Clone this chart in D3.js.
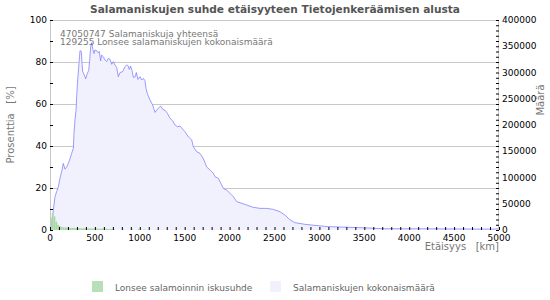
<!DOCTYPE html>
<html>
<head>
<meta charset="utf-8">
<script src="https://cdn.jsdelivr.net/npm/d3@7"></script>
<style>
body { margin: 0; background: #fff; }
svg { font-family: "DejaVu Sans", sans-serif; }
</style>
</head>
<body>
<div id="chart-area"></div>
<script>
// total strikes by distance (km -> count)
var distances = [0, 19, 37, 56, 74, 93, 111, 130, 148, 167, 186, 204, 223, 241, 260, 267, 278, 290, 297, 308,
    323, 334, 349, 356, 364, 382, 397, 416, 431, 442, 453, 464, 475, 490, 501, 520, 535, 549, 564, 575,
    594, 612, 631, 649, 668, 687, 705, 724, 742, 761, 780, 809, 835, 854, 872, 883, 898, 913, 928, 950,
    961, 980, 1002, 1021, 1039, 1058, 1069, 1084, 1114, 1143, 1169, 1188, 1206, 1233, 1255, 1281, 1307, 1336, 1366, 1392,
    1418, 1448, 1478, 1503, 1540, 1578, 1596, 1633, 1670, 1707, 1745, 1782, 1819, 1837, 1874, 1912, 1930, 1968, 2004, 2041,
    2079, 2116, 2190, 2264, 2339, 2413, 2487, 2561, 2617, 2673, 2728, 2840, 2951, 3096, 3318, 3541, 3730, 3987, 4500, 4950, 5000];
var counts = [4000, 9600, 38000, 63600, 73200, 82400, 98400, 111200, 126800, 116000, 120000, 126800, 136000, 146000, 155600, 184000, 209600, 228000, 254000, 285600,
    317600, 341600, 340000, 317600, 301600, 295200, 288000, 298400, 304000, 324000, 349200, 356800, 346000, 336000, 342800, 341600, 337600, 340000, 322400, 333200,
    330000, 324000, 320800, 326800, 325200, 315600, 320800, 314400, 310000, 292000, 300000, 301600, 311200, 314400, 312400, 306000, 312000, 304000, 290800, 292000,
    300000, 286800, 292000, 285600, 288800, 284400, 270000, 260000, 247600, 238000, 224000, 228000, 232000, 236000, 230000, 228000, 222400, 212800, 208000, 200000,
    196800, 198000, 192000, 187200, 177600, 171600, 158800, 149200, 146000, 136000, 120000, 114400, 108000, 101600, 98400, 85600, 79200, 76000, 70000, 63600,
    54000, 52000, 47600, 43200, 41200, 41200, 39200, 34800, 28400, 19200, 14000, 10800, 8800, 6400, 5200, 3800, 2400, 2400, 2000, 1600, 2400];

// Lonsee strike ratio [%], 20 km bins
var ratioBins = [0, 20, 40, 60, 80, 100, 120, 140, 160, 180, 200, 220, 240, 260, 280, 300, 320, 340, 360, 380,
    400, 420, 440, 460, 480, 500, 520, 540, 560, 580, 600, 620, 640, 660, 680, 700, 720, 740, 760, 780,
    800, 820, 840, 860, 880, 900, 920, 940, 960, 980, 1000, 1020, 1040];
var ratios = [6, 8, 6.5, 4, 2.5, 1.8, 1.5, 1.3, 1.2, 1.2, 1.1, 1, 1, 1, 0.9, 0.9, 0.9, 0.8, 0.8, 0.8,
    0.8, 0.8, 0.7, 0.7, 0.7, 0.7, 0.7, 0.6, 0.6, 0.6, 0.6, 0.6, 0.5, 0.5, 0.5, 0.4, 0, 0, 0, 0,
    0.4, 0, 0, 0, 0, 0.4, 0, 0, 0, 0.4, 0, 0, 0.3];

var pctTicks = [0, 20, 40, 60, 80, 100];
var countTicks = [0, 50000, 100000, 150000, 200000, 250000, 300000, 350000, 400000];
var kmTicks = [0, 500, 1000, 1500, 2000, 2500, 3000, 3500, 4000, 4500, 5000];

var margin = { left: 50, right: 51, top: 20, bottom: 70 };
var width = 550 - margin.left - margin.right,
    height = 300 - margin.top - margin.bottom;

var svg = d3.select("#chart-area")
    .append("svg")
        .attr("width", 550)
        .attr("height", 300);

var g = svg.append("g")
    .attr("transform", "translate(" + margin.left + "," + margin.top + ")");

var x = d3.scaleLinear().domain([0, 5000]).range([0, width]);
var yL = d3.scaleLinear().domain([0, 100]).range([height, 0]);
var yR = d3.scaleLinear().domain([0, 400000]).range([height, 0]);

// grid
g.selectAll(".grid")
    .data(pctTicks.slice(1))
    .enter().append("line")
        .attr("x1", 0).attr("x2", width)
        .attr("y1", function(d){ return yL(d) + 0.5; })
        .attr("y2", function(d){ return yL(d) + 0.5; })
        .attr("stroke", "#c8c8c8");

// blue area + line
var pts = distances.map(function(d, i){ return [d, counts[i]]; });
g.append("path")
    .datum(pts)
    .attr("fill", "#f1f1fd")
    .attr("d", d3.area()
        .x(function(d){ return x(d[0]); })
        .y0(height)
        .y1(function(d){ return yR(d[1]); }));
g.append("path")
    .datum(pts)
    .attr("fill", "none")
    .attr("stroke", "#7373ff")
    .attr("stroke-width", 0.7)
    .attr("d", d3.line()
        .x(function(d){ return x(d[0]); })
        .y(function(d){ return yR(d[1]); }));

// green bars
g.selectAll(".ratio")
    .data(ratioBins)
    .enter().append("rect")
        .attr("x", function(d){ return x(d); })
        .attr("width", x(20) - x(0))
        .attr("y", function(d, i){ return yL(ratios[i]); })
        .attr("height", function(d, i){ return height - yL(ratios[i]); })
        .attr("fill", "#a8d8a8");

// frame lines
g.append("line").attr("x1", 0.5).attr("x2", 0.5).attr("y1", 0).attr("y2", height).attr("stroke", "#c8c8c8");
g.append("line").attr("x1", width - 0.5).attr("x2", width - 0.5).attr("y1", 0).attr("y2", height).attr("stroke", "#c8c8c8");

// left axis
var yLAxis = d3.axisRight(yL).tickValues(d3.range(0, 101, 10)).tickSize(3).tickFormat("");
g.append("g").call(yLAxis).call(function(s){ s.select(".domain").remove(); s.selectAll("line").attr("stroke", "#000"); });
g.append("g").selectAll("text")
    .data(pctTicks)
    .enter().append("text")
        .attr("x", -3)
        .attr("y", function(d){ return yL(d) + 3; })
        .attr("text-anchor", "end")
        .attr("font-size", "9px")
        .attr("fill", "#000")
        .text(function(d){ return d; });

// right axis
var yRAxis = d3.axisLeft(yR).tickValues(d3.range(0, 400001, 10000)).tickSize(3).tickFormat("");
g.append("g").attr("transform", "translate(" + width + ",0)")
    .call(yRAxis).call(function(s){ s.select(".domain").remove(); s.selectAll("line").attr("stroke", "#000"); });
g.append("g").selectAll("text")
    .data(countTicks)
    .enter().append("text")
        .attr("x", width + 3)
        .attr("y", function(d){ return yR(d) + 3; })
        .attr("font-size", "9px")
        .attr("fill", "#000")
        .text(function(d){ return d; });

// x axis
var xAxis = d3.axisTop(x).tickValues(d3.range(0, 5001, 100)).tickSize(3).tickFormat("");
g.append("g").attr("transform", "translate(0," + height + ")")
    .call(xAxis).call(function(s){ s.select(".domain").remove(); s.selectAll("line").attr("stroke", "#000"); });
g.append("g").selectAll("text")
    .data(kmTicks)
    .enter().append("text")
        .attr("x", function(d){ return x(d); })
        .attr("y", height + 11)
        .attr("text-anchor", "middle")
        .attr("font-size", "9px")
        .attr("fill", "#000")
        .text(function(d){ return d; });

// title
svg.append("text")
    .attr("x", 275).attr("y", 13)
    .attr("text-anchor", "middle")
    .attr("font-size", "10.6px")
    .attr("font-weight", "bold")
    .attr("fill", "#555")
    .text("Salamaniskujen suhde etäisyyteen Tietojenkeräämisen alusta");

// axis titles
svg.append("text")
    .attr("transform", "translate(14,125) rotate(-90)")
    .attr("text-anchor", "middle")
    .attr("font-size", "10px")
    .attr("fill", "#777")
    .attr("xml:space", "preserve")
    .text("Prosenttia   [%]");
svg.append("text")
    .attr("transform", "translate(544,100) rotate(-90)")
    .attr("text-anchor", "middle")
    .attr("font-size", "10px")
    .attr("fill", "#777")
    .text("Määrä");
svg.append("text")
    .attr("x", margin.left + width).attr("y", 250)
    .attr("text-anchor", "end")
    .attr("font-size", "10px")
    .attr("fill", "#777")
    .attr("xml:space", "preserve")
    .text("Etäisyys   [km]");

// annotations
g.append("text").attr("x", 10).attr("y", 17)
    .attr("font-size", "9px").attr("fill", "#777")
    .text("47050747 Salamaniskuja yhteensä");
g.append("text").attr("x", 10).attr("y", 25)
    .attr("font-size", "9px").attr("fill", "#777")
    .text("129255 Lonsee salamaniskujen kokonaismäärä");

// legend
var legend = [["Lonsee salamoinnin iskusuhde", "#b8e0b8", 92], ["Salamaniskujen kokonaismäärä", "#f1f1fd", 270]];
legend.forEach(function(l){
    svg.append("rect").attr("x", l[2]).attr("y", 281).attr("width", 11).attr("height", 11).attr("fill", l[1]);
    svg.append("text").attr("x", l[2] + 23).attr("y", 291)
        .attr("font-size", "9px").attr("fill", "#666")
        .text(l[0]);
});
</script>
</body>
</html>
